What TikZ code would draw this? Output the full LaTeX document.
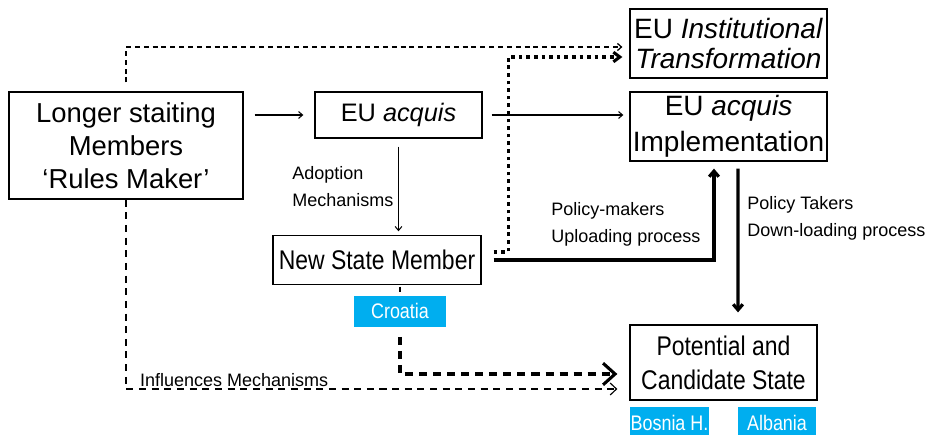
\documentclass[tikz,border=0pt]{standalone}
\usepackage{fontspec}
\setmainfont{Liberation Sans}
\newfontfamily\narrowsf{Liberation Sans}[FakeStretch=0.85]
\usetikzlibrary{arrows.meta}
\definecolor{tagblue}{HTML}{00AEEF}

\begin{document}
\begin{tikzpicture}
		[	box/.style={rectangle,draw=black,line width=.9pt,inner sep=0pt,align=center},
		tag/.style={rectangle,fill=tagblue,text=white,inner sep=0pt,minimum height=.775cm,font=\narrowsf\fontsize{15}{17}\selectfont},
		plain/.style={draw=none,fill=none,align=left,inner sep=0pt,font=\fontsize{12.8}{19}\selectfont},
		slim/.style={line width=.75pt,-{Straight Barb[length=1mm,width=1.7mm]}},
		heavy/.style={line width=2.3pt,-{Straight Barb[length=1.4mm,width=2.4mm]}},
		dashtop/.style={line width=.9pt,dash pattern=on 3.5pt off 2.8pt,-{Straight Barb[length=1mm,width=1.8mm]}},
		dotlink/.style={line width=2.2pt,dash pattern=on 2.6pt off 2.8pt,-{Straight Barb[length=1.6mm,width=2.4mm]}},
		dashcro/.style={line width=2.2pt,dash pattern=on 5.7pt off 4.3pt,-{Straight Barb[length=3mm,width=5.4mm]}},
		dashinf/.style={line width=.8pt,dash pattern=on 5pt off 4pt,-{Straight Barb[length=1.6mm,width=3mm]}}
		]
		\useasboundingbox (0,0) rectangle (23.15,-10.85);
		\node[box,minimum width=5.85cm,minimum height=2.675cm,font=\fontsize{19.5}{23.5}\selectfont] (lsm) at (3.15,-3.6375){Longer staiting\\Members\\`Rules Maker'};
		\node[box,minimum width=4.175cm,minimum height=1.15cm,font=\fontsize{18}{20}\selectfont] (acq) at (9.9625,-2.875){EU \textit{acquis}};
		\node[box,minimum width=4.925cm,minimum height=1.725cm,font=\fontsize{19.9}{22}\selectfont] (inst) at (18.2125,-1.0875){EU \textit{Institutional}\\\textit{Transformation}};
		\node[box,minimum width=4.925cm,minimum height=1.725cm,font=\fontsize{19.9}{25.5}\selectfont] (impl) at (18.2125,-3.1625){EU \textit{acquis}\\Implementation};
		\node[box,minimum width=5.2cm,minimum height=1.225cm,font=\narrowsf\fontsize{19.2}{21}\selectfont] (nsm) at (9.425,-6.5){New State Member};
		\node[box,minimum width=4.675cm,minimum height=1.875cm,font=\narrowsf\fontsize{19.2}{24}\selectfont] (pcs) at (18.0875,-9.0625){Potential and\\Candidate State};

\node[tag,minimum width=2.3cm] (cro) at (10,-7.775){Croatia};
\node[tag,minimum width=1.975cm] (bos) at (16.7375,-10.5625){Bosnia H.};
\node[tag,minimum width=1.95cm] (alb) at (19.425,-10.5625){Albania};

\node[plain,anchor=west] (adopt) at (7.3,-4.6625){Adoption\\Mechanisms};
\node[plain,anchor=west] (upl) at (13.775,-5.6){Policy-makers\\Uploading process};
\node[plain,anchor=west] (down) at (18.675,-5.45){Policy Takers\\Down-loading process};

		\draw[slim,shorten <=.275cm,shorten >=.275cm] (lsm.east |- acq.west) -- (acq.west);
		\draw[slim,shorten <=.225cm,shorten >=.15cm] (acq.east) -- (acq.east -| impl.west);
		\draw[slim,shorten <=.2cm,shorten >=.09cm] (acq.south) -- (acq.south |- nsm.north);
		\draw[dashtop,shorten <=.225cm] (lsm.north) |- ([shift={(-.175,-.0875)}]inst.west);
		\draw[dotlink] ([shift={(.3,.2)}]nsm.east) -- ++(.3625,0) |- ([shift={(-.175,-.3375)}]inst.west);
		\draw[heavy,shorten >=.175cm] ([xshift=.3cm]nsm.east) -| ([xshift=-.3625cm]impl.south);
		\draw[heavy,shorten <=.175cm,shorten >=.3cm] ([xshift=.2375cm]impl.south) -- ([xshift=.3625cm]pcs.north);
		\draw[line width=.9pt,shorten <=.04cm,shorten >=.07cm] (nsm.south -| cro.north) -- (cro.north);
		\draw[dashcro,shorten <=.25cm] (cro.south) |- ([shift={(-.3,-.2875)}]pcs.west);
		\draw[dashinf] (lsm.south) |- node[plain,pos=.61,above,inner sep=1.5pt]{Influences Mechanisms} ([shift={(-.3,-.6625)}]pcs.west);
	\end{tikzpicture}
\end{document}
